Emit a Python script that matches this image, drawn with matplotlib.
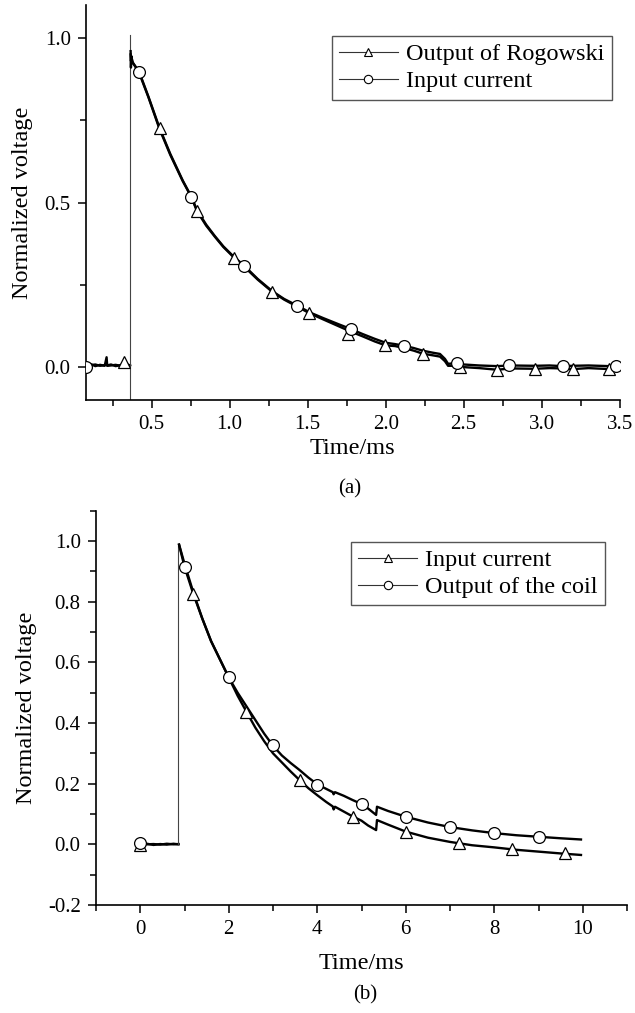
import matplotlib

matplotlib.use("Agg")

import matplotlib.pyplot as plt
from matplotlib.lines import Line2D
from matplotlib.ticker import MultipleLocator

plt.rcParams['font.family'] = ['Liberation Serif', 'DejaVu Serif']

# ---- (a) Rogowski output vs input current ----
a_base_t = [0.08, 0.11, 0.14, 0.17, 0.20, 0.212, 0.216, 0.24, 0.27, 0.30, 0.33, 0.362]
a_base_rog = [0.004, 0.009, 0.003, 0.007, 0.004, 0.03, 0.005, 0.008, 0.003, 0.006, 0.012, 0.005]
a_base_inp = [0.003, 0.006, 0.008, 0.004, 0.006, 0.012, 0.004, 0.005, 0.007, 0.004, 0.006, 0.004]

a_step_t = 0.365
a_step_lo = -0.12
a_step_hi = 1.01

a_t = [0.366, 0.368, 0.371, 0.375, 0.38, 0.42, 0.48, 0.55, 0.62, 0.70, 0.756, 0.79,
       0.85, 0.906, 0.96, 1.03, 1.094, 1.18, 1.273, 1.35, 1.433, 1.515, 1.60, 1.70,
       1.776, 1.85, 1.93, 2.00, 2.06, 2.117, 2.18, 2.237, 2.30, 2.348, 2.38, 2.40,
       2.45, 2.50, 2.60, 2.715, 2.80, 2.957, 3.05, 3.135, 3.198, 3.30, 3.433, 3.49]
a_rog = [0.96, 0.91, 0.945, 0.93, 0.925, 0.895, 0.82, 0.725, 0.645, 0.565, 0.516, 0.475,
         0.43, 0.396, 0.365, 0.332, 0.305, 0.266, 0.229, 0.205, 0.184, 0.163, 0.145, 0.124,
         0.108, 0.094, 0.078, 0.066, 0.064, 0.058, 0.05, 0.041, 0.036, 0.032, 0.018, 0.004,
         0.004, 0.0, -0.003, -0.008, -0.004, -0.005, -0.003, -0.004, -0.006, -0.003, -0.006, -0.004]
a_inp = [0.95, 0.93, 0.94, 0.935, 0.925, 0.898, 0.822, 0.728, 0.648, 0.567, 0.517, 0.478,
         0.433, 0.398, 0.367, 0.334, 0.308, 0.268, 0.231, 0.207, 0.187, 0.166, 0.149, 0.13,
         0.116, 0.101, 0.086, 0.074, 0.07, 0.065, 0.058, 0.05, 0.044, 0.04, 0.025, 0.01,
         0.012, 0.008, 0.005, 0.003, 0.005, 0.004, 0.005, 0.003, 0.004, 0.005, 0.003, 0.004]

a_tri_t = [0.325, 0.553, 0.79, 1.03, 1.27, 1.51, 1.76, 1.996, 2.237, 2.476, 2.715, 2.957, 3.198, 3.433]
a_tri_v = [0.015, 0.725, 0.473, 0.332, 0.229, 0.163, 0.102, 0.066, 0.041, 0.0, -0.01, -0.005, -0.006, -0.006]
a_cir_t = [0.083, 0.419, 0.756, 1.094, 1.433, 1.776, 2.117, 2.455, 2.79, 3.135, 3.476]
a_cir_v = [0.0, 0.897, 0.516, 0.307, 0.186, 0.116, 0.064, 0.012, 0.005, 0.003, 0.003]

# ---- (b) input current vs coil output ----
b_base_t = [0.0, 0.15, 0.3, 0.45, 0.6, 0.75, 0.863]
b_base_inp = [0.0, 0.002, -0.002, 0.001, -0.001, 0.002, 0.0]
b_base_coil = [0.002, 0.0, 0.001, -0.001, 0.002, 0.0, 0.001]

b_step_t = 0.863
b_step_lo = 0.0
b_step_hi = 0.988

b_t = [0.877, 1.0, 1.2, 1.4, 1.6, 1.8, 2.0, 2.2, 2.4, 2.6, 2.8, 3.0, 3.2, 3.4, 3.6,
       3.8, 4.0, 4.2, 4.35, 4.37, 4.4, 4.6, 4.8, 5.0, 5.15, 5.33, 5.35, 5.6, 6.0, 6.5,
       7.0, 7.5, 8.0, 8.5, 9.0, 9.5, 9.96]
b_coil = [0.988, 0.925, 0.83, 0.745, 0.67, 0.61, 0.55, 0.5, 0.455, 0.41, 0.365, 0.325,
          0.293, 0.268, 0.245, 0.22, 0.198, 0.183, 0.172, 0.165, 0.172, 0.16, 0.146, 0.133,
          0.118, 0.097, 0.124, 0.11, 0.091, 0.072, 0.057, 0.046, 0.037, 0.03, 0.025, 0.02, 0.016]
b_inp = [0.988, 0.915, 0.825, 0.745, 0.67, 0.61, 0.55, 0.49, 0.437, 0.385, 0.34, 0.30,
         0.27, 0.24, 0.212, 0.185, 0.162, 0.14, 0.125, 0.115, 0.124, 0.108, 0.092, 0.078,
         0.062, 0.047, 0.08, 0.065, 0.042, 0.022, 0.008, -0.003, -0.01, -0.018, -0.024, -0.03, -0.035]

b_tri_t = [0.0, 1.2, 2.4, 3.6, 4.8, 6.0, 7.2, 8.4, 9.6]
b_tri_v = [-0.003, 0.826, 0.437, 0.212, 0.091, 0.042, 0.003, -0.016, -0.03]
b_cir_t = [0.0, 1.0, 2.0, 3.0, 4.0, 5.0, 6.0, 7.0, 8.0, 9.0]
b_cir_v = [0.005, 0.915, 0.55, 0.327, 0.197, 0.132, 0.091, 0.056, 0.036, 0.025]


TRACE_LW = 1.7
MK = dict(linestyle='none', markersize=8.5, markerfacecolor='white',
          markeredgecolor='black', markeredgewidth=0.9, zorder=4)


def style_axes(ax):
    ax.spines['top'].set_visible(False)
    ax.spines['right'].set_visible(False)
    ax.spines['left'].set_linewidth(1.2)
    ax.spines['bottom'].set_linewidth(1.2)
    ax.tick_params(which='major', direction='out', length=6, width=1.1, labelsize=15, pad=5)
    ax.tick_params(which='minor', direction='out', length=4, width=1.1)


def legend_handles(labels):
    return [
        Line2D([0], [0], color='#333333', lw=0.8, marker='^', markersize=6,
               markerfacecolor='white', markeredgecolor='black', markeredgewidth=0.8,
               label=labels[0]),
        Line2D([0], [0], color='#333333', lw=0.8, marker='o', markersize=6,
               markerfacecolor='white', markeredgecolor='black', markeredgewidth=0.8,
               label=labels[1]),
    ]


def add_legend(ax, labels, anchor):
    leg = ax.legend(handles=legend_handles(labels), loc='upper right',
                    bbox_to_anchor=anchor, fontsize=17.5, frameon=True,
                    fancybox=False, edgecolor='#555555', framealpha=1,
                    handlelength=2.4, handletextpad=0.35, borderpad=0.3,
                    labelspacing=0.2, borderaxespad=0)
    leg.get_frame().set_linewidth(1.0)
    return leg


fig = plt.figure(figsize=(6.35, 10.13), dpi=100)

# (a)
ax1 = fig.add_axes([0.1354, 0.6051, 0.8406, 0.3899])
ax1.plot(a_base_t, a_base_inp, color='black', lw=TRACE_LW)
ax1.plot(a_base_t, a_base_rog, color='black', lw=TRACE_LW)
ax1.plot([a_step_t, a_step_t], [a_step_lo, a_step_hi], color='#444444', lw=0.8)
ax1.plot(a_t, a_inp, color='black', lw=TRACE_LW)
ax1.plot(a_t, a_rog, color='black', lw=TRACE_LW)
ax1.plot(a_tri_t, a_tri_v, marker='^', **MK)
ax1.plot(a_cir_t, a_cir_v, marker='o', **MK)
ax1.set_xlim(0.08, 3.5)
ax1.set_ylim(-0.1, 1.1)
ax1.xaxis.set_major_locator(MultipleLocator(0.5))
ax1.xaxis.set_minor_locator(MultipleLocator(0.25))
ax1.yaxis.set_major_locator(MultipleLocator(0.5))
ax1.yaxis.set_minor_locator(MultipleLocator(0.25))
ax1.xaxis.set_major_formatter(lambda v, p: f"{v:.1f}")
ax1.yaxis.set_major_formatter(lambda v, p: f"{v:.1f}")
style_axes(ax1)
ax1.set_xlabel("Time/ms", fontsize=17.5, labelpad=3)
ax1.set_ylabel("Normalized voltage", fontsize=17.5, labelpad=8)
add_legend(ax1, ["Output of Rogowski", "Input current"], (0.985, 0.9215))
fig.text(0.551, 1 - 489 / 1013, "(a)", ha='center', va='center', fontsize=15)

# (b)
ax2 = fig.add_axes([0.1512, 0.1066, 0.8362, 0.3893])
ax2.plot(b_base_t, b_base_inp, color='black', lw=TRACE_LW)
ax2.plot(b_base_t, b_base_coil, color='black', lw=TRACE_LW)
ax2.plot([b_step_t, b_step_t], [b_step_lo, b_step_hi], color='#444444', lw=0.8)
ax2.plot(b_t, b_inp, color='black', lw=TRACE_LW)
ax2.plot(b_t, b_coil, color='black', lw=TRACE_LW)
ax2.plot(b_tri_t, b_tri_v, marker='^', **MK)
ax2.plot(b_cir_t, b_cir_v, marker='o', **MK)
ax2.set_xlim(-1, 11)
ax2.set_ylim(-0.2, 1.1)
ax2.xaxis.set_major_locator(MultipleLocator(2))
ax2.xaxis.set_minor_locator(MultipleLocator(1))
ax2.yaxis.set_major_locator(MultipleLocator(0.2))
ax2.yaxis.set_minor_locator(MultipleLocator(0.1))
ax2.xaxis.set_major_formatter(lambda v, p: f"{v:.0f}")
ax2.yaxis.set_major_formatter(lambda v, p: f"{v:.1f}")
style_axes(ax2)
ax2.set_xlabel("Time/ms", fontsize=17.5, labelpad=10)
ax2.set_ylabel("Normalized voltage", fontsize=17.5, labelpad=8)
add_legend(ax2, ["Input current", "Output of the coil"], (0.9586, 0.9206))
fig.text(0.575, 1 - 995 / 1013, "(b)", ha='center', va='center', fontsize=15)

fig.savefig("out.png", dpi=100)
plt.close(fig)
